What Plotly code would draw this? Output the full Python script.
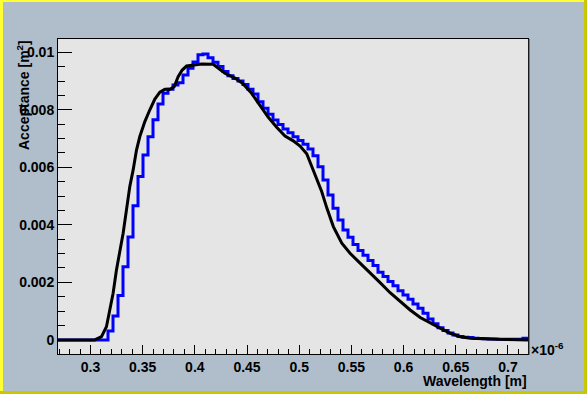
import numpy as np
import plotly.graph_objects as go

# ---------------- data ----------------
# x axis in units of 1e-6 m
hist_lo = 0.2689
hist_hi = 0.7192
acc_hist = [
    0, 0, 0, 0, 0, 0, 0, 0, 0, 0,
    0.00031, 0.00083, 0.00154, 0.00254, 0.00358, 0.00466, 0.00568, 0.00643, 0.00706, 0.00765,
    0.0082, 0.00857, 0.00871, 0.00886, 0.00894, 0.00921, 0.00944, 0.00966, 0.00991, 0.00994,
    0.00981, 0.00965, 0.0095, 0.00933, 0.00918, 0.00909, 0.009, 0.00888, 0.00871, 0.00855,
    0.00828, 0.00805, 0.00784, 0.00764, 0.00749, 0.00733, 0.0072, 0.00706, 0.00693, 0.0068,
    0.00664, 0.0064, 0.00602, 0.00556, 0.00504, 0.00458, 0.00417, 0.00382, 0.00357, 0.00332,
    0.00311, 0.00294, 0.00276, 0.00259, 0.00235, 0.0022, 0.00203, 0.00188, 0.00171, 0.00156,
    0.00141, 0.00125, 0.0011, 0.00093, 0.00073, 0.00056, 0.00042, 0.00033, 0.00024, 0.00017,
    0.00012, 0.00009, 0.00008, 0.00006, 0.00005, 0.00004, 0.00003, 0.00003, 0.00002, 0.00002,
    0.00002, 0.00002, 0.00002, 0.00006,
]

curve_wl = [
    0.2689, 0.3041, 0.3106, 0.3153, 0.3185, 0.3217, 0.3249, 0.3281, 0.3313, 0.3345,
    0.3377, 0.3409, 0.3441, 0.3473, 0.3521, 0.3569, 0.3617, 0.3665, 0.3713, 0.3761,
    0.3802, 0.3840, 0.3879, 0.3921, 0.4001, 0.4065, 0.4176, 0.4224, 0.4288, 0.4384,
    0.4463, 0.4544, 0.4624, 0.4704, 0.4784, 0.4864, 0.4943, 0.5008, 0.5072, 0.5120,
    0.5168, 0.5216, 0.5264, 0.5327, 0.5408, 0.5487, 0.5583, 0.5679, 0.5775, 0.5871,
    0.5967, 0.6063, 0.6159, 0.6255, 0.6351, 0.6447, 0.6543, 0.6639, 0.6895, 0.7192,
]
curve_acc = [
    0, 0, 0.000115, 0.00046, 0.00104, 0.00162, 0.00243, 0.00301, 0.00371, 0.00452,
    0.00533, 0.00591, 0.0066, 0.00707, 0.00759, 0.008, 0.00837, 0.00861, 0.00871, 0.00871,
    0.0088, 0.00915, 0.00938, 0.00952, 0.00956, 0.00959, 0.00958, 0.00944, 0.00927, 0.0091,
    0.0089, 0.00857, 0.00817, 0.00774, 0.00739, 0.00709, 0.00692, 0.00674, 0.00647, 0.00605,
    0.00562, 0.00515, 0.00459, 0.00394, 0.00336, 0.00301, 0.00267, 0.00234, 0.00199, 0.00164,
    0.00133, 0.00104, 0.00078, 0.00058, 0.00041, 0.00023, 0.00011, 0.00006, 0.00002, 0.0,
]

x_tickvals = [0.3, 0.35, 0.4, 0.45, 0.5, 0.55, 0.6, 0.65, 0.7]
x_ticktext = ["0.3", "0.35", "0.4", "0.45", "0.5", "0.55", "0.6", "0.65", "0.7"]
y_tickvals = [0, 0.002, 0.004, 0.006, 0.008, 0.01]
y_ticktext = ["0", "0.002", "0.004", "0.006", "0.008", "0.01"]

x_range = [0.2689, 0.7192]
y_range = [-0.00049, 0.01046]

# ---------------- figure ----------------
W, H = 587, 394
ML, MR, MT, MB = 58, 59, 39, 40
PW, PH = W - ML - MR, H - MT - MB

def px(xp):  # pixel -> paper x
    return (xp - ML) / PW

def py(yp):  # pixel -> paper y
    return (H - MB - yp) / PH

n = len(acc_hist)
edges = np.linspace(hist_lo, hist_hi, n + 1)
hist_y = list(acc_hist) + [acc_hist[-1]]

FONT = "Liberation Sans"

fig = go.Figure()
fig.add_trace(go.Scatter(
    x=edges, y=hist_y, mode="lines",
    line=dict(color="#0000FF", width=3, shape="hv"),
    hoverinfo="skip", showlegend=False,
))
fig.add_trace(go.Scatter(
    x=curve_wl, y=curve_acc, mode="lines",
    line=dict(color="#000000", width=3),
    hoverinfo="skip", showlegend=False,
))

axis_common = dict(
    showgrid=False, zeroline=False,
    showline=True, linecolor="black", linewidth=1, mirror=True,
    ticks="inside", tickcolor="black", tickwidth=1,
    tickfont=dict(family=FONT, size=14, color="black", weight="bold"),
)

fig.update_xaxes(
    range=x_range, tickvals=x_tickvals, ticktext=x_ticktext, ticklen=9,
    minor=dict(ticks="inside", ticklen=5, tickcolor="black", dtick=0.01, tick0=0.3),
    **axis_common,
)
fig.update_yaxes(
    range=y_range, tickvals=y_tickvals, ticktext=y_ticktext, ticklen=14,
    minor=dict(ticks="inside", ticklen=7, tickcolor="black", dtick=0.0005, tick0=0),
    **axis_common,
)

annotations = [
    dict(text="Acceptance [m<sup>2</sup>]", textangle=-90, xref="paper", yref="paper",
         x=px(23), y=py(38), xanchor="center", yanchor="top", showarrow=False,
         font=dict(family=FONT, size=14, color="black", weight="bold")),
    dict(text="Wavelength [m]", xref="paper", yref="paper",
         x=px(528), y=py(381), xanchor="right", yanchor="middle", showarrow=False,
         borderpad=0,
         font=dict(family=FONT, size=14, color="black", weight="bold")),
    dict(text="×10<sup>-6</sup>", xref="paper", yref="paper",
         x=px(529), y=py(349), xanchor="left", yanchor="middle", showarrow=False,
         font=dict(family=FONT, size=14, color="black", weight="bold")),
]

def rect(x0, y0, x1, y1, color):
    return dict(type="rect", xref="paper", yref="paper", layer="above",
                x0=px(x0), x1=px(x1), y0=py(y0), y1=py(y1),
                line=dict(width=0), fillcolor=color)

shapes = [
    rect(0, 0, W, 2, "#FFFF33"),        # top highlight
    rect(0, 0, 3, H, "#FFFF33"),        # left highlight
    rect(0, H - 3, W, H, "#C8C800"),    # bottom shadow
    rect(W - 3, 0, W, H, "#C8C800"),    # right shadow
    dict(type="line", xref="paper", yref="paper", x0=px(529), x1=px(529), y0=py(39), y1=py(355),
         line=dict(color="#333333", width=1)),
]

fig.update_layout(
    width=W, height=H,
    margin=dict(l=ML, r=MR, t=MT, b=MB, pad=0),
    paper_bgcolor="#AFBECA", plot_bgcolor="#E5E5E5",
    annotations=annotations, shapes=shapes,
    showlegend=False,
)

fig.write_html("out.html")
